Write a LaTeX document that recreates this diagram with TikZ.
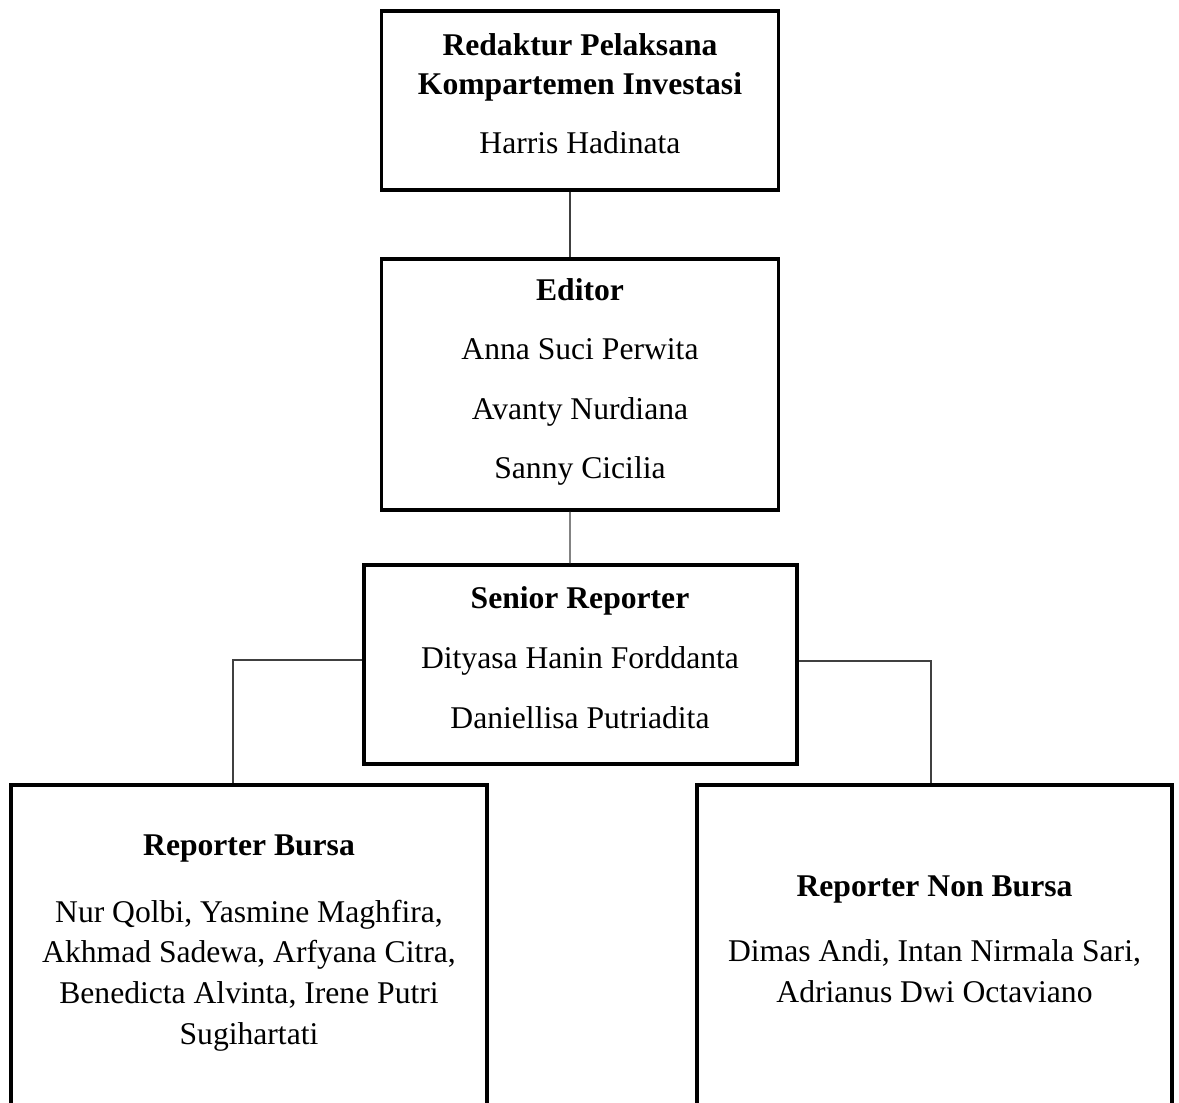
\documentclass[tikz,border=0pt]{standalone}
\usepackage{fontspec}
\setmainfont{Liberation Serif}
\tikzset{
	box/.style  = {draw, line width=1.9pt, inner sep=0pt},
	link/.style = {draw=black!75, line width=0.7pt},
	txt/.style  = {align=center, font=\fontsize{18}{22}\selectfont}
}
\begin{document}
\begin{tikzpicture}[x=0.02cm, y=-0.02cm]
	\useasboundingbox (0,0) rectangle (1179,1102);
	\clip (0,0) rectangle (1179,1102);
	% boxes
	\node (redaktur) at (580, 100.5)	[box, minimum width=7.94cm, minimum height=3.58cm]	{};
	\node (editor)   at (580, 384.5)	[box, minimum width=7.94cm, minimum height=5.02cm]	{};
	\node (senior)   at (580.5, 664.5)	[box, minimum width=8.66cm, minimum height=3.98cm]	{};
	\node (bursa)    at (249, 992.5)	[box, minimum width=9.52cm, minimum height=8.3cm]	{};
	\node (nonbursa) at (934.5, 992.5)	[box, minimum width=9.5cm, minimum height=8.3cm]	{};
	% texts
	\node (redaktur-t) at (580, 93.5)	[txt]	{\textbf{Redaktur Pelaksana}\\[0.7pt] \textbf{Kompartemen Investasi}\\[11.4pt] Harris Hadinata};
	\node (editor-t)   at (580, 382)	[txt]	{\textbf{Editor}\\[11.8pt] Anna Suci Perwita\\[11.8pt] Avanty Nurdiana\\[11.8pt] Sanny Cicilia};
	\node (senior-t)   at (580, 658)	[txt]	{\textbf{Senior Reporter}\\[12.2pt] Dityasa Hanin Forddanta\\[12.2pt] Daniellisa Putriadita};
	\node (bursa-t)    at (249, 943)	[txt]	{\textbf{Reporter Bursa}\\[16pt] Nur Qolbi, Yasmine Maghfira,\\[1.2pt] Akhmad Sadewa, Arfyana Citra,\\[1.2pt] Benedicta Alvinta, Irene Putri\\[1.2pt] Sugihartati};
	\node (nonbursa-t) at (934.5, 939)	[txt]	{\textbf{Reporter Non Bursa}\\[15pt] Dimas Andi, Intan Nirmala Sari,\\[1.2pt] Adrianus Dwi Octaviano};
	% connectors
	\draw[link] ([xshift=-0.2cm]redaktur.south) -- ([xshift=-0.2cm]editor.north);
	\draw[link] ([xshift=-0.2cm]editor.south) -- ([xshift=-0.21cm]senior.north);
	\draw[link] ([yshift=0.09cm]senior.west) -| ([xshift=-0.32cm]bursa.north);
	\draw[link] ([yshift=0.07cm]senior.east) -| ([xshift=-0.07cm]nonbursa.north);
\end{tikzpicture}
\end{document}
